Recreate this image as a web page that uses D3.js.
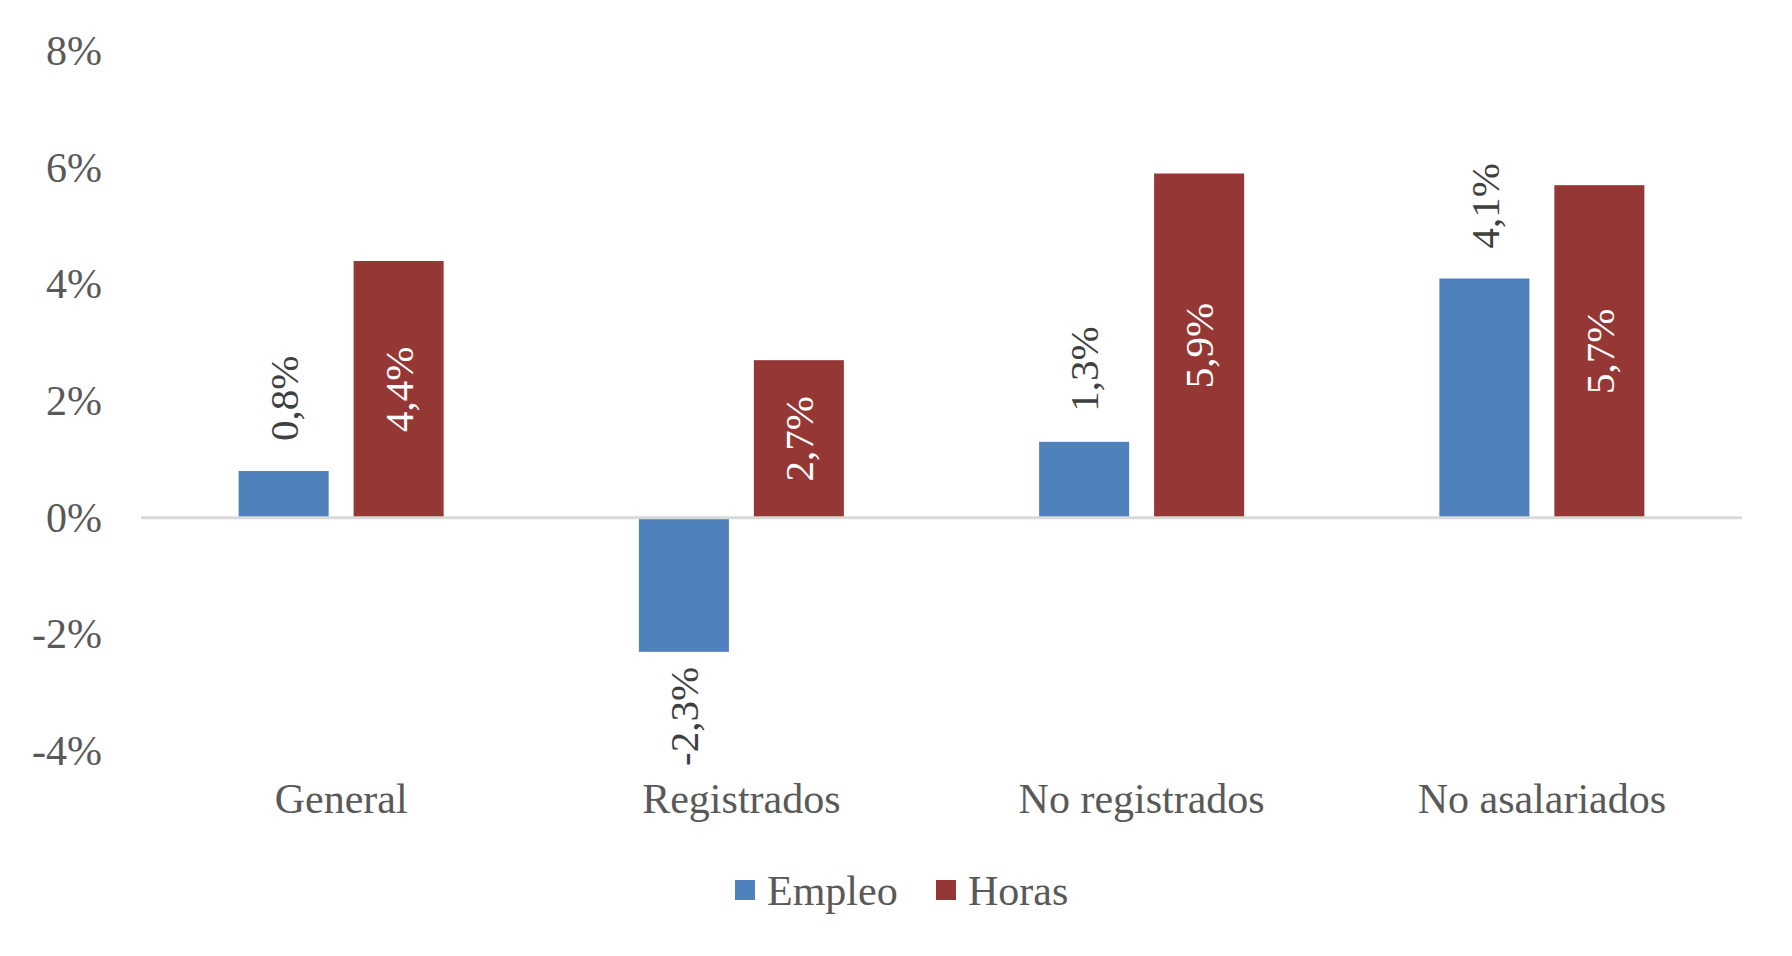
<!DOCTYPE html>
<html>
<head>
<meta charset="utf-8">
<script src="https://cdn.jsdelivr.net/npm/d3@7"></script>
<style>
  body { margin: 0; background: #fff; }
  text { font-family: "Liberation Serif", serif; }
</style>
</head>
<body>
<div id="chart-area"></div>
<script>
// data
const categories = ["General", "Registrados", "No registrados", "No asalariados"]
const series = ["Empleo", "Horas"]
const empleo = [0.8, -2.3, 1.3, 4.1]
const horas = [4.4, 2.7, 5.9, 5.7]
const yTicks = [-4, -2, 0, 2, 4, 6, 8]

const COLORS = { Empleo: "#4f81bd", Horas: "#953735" }

const WIDTH = 1792
const HEIGHT = 956

const svg = d3.select("#chart-area")
  .append("svg")
  .attr("width", WIDTH)
  .attr("height", HEIGHT)

const x0 = d3.scaleBand()
  .domain(categories)
  .range([141, 1742])

const x1 = d3.scaleBand()
  .domain(series)
  .range([0, 205])
  .paddingInner(0.217)

const y = d3.scaleLinear()
  .domain([-4, 8])
  .range([751, 51])

const rows = categories.map((c, i) => ({ cat: c, Empleo: empleo[i], Horas: horas[i] }))

// y axis labels (no line, no ticks)
const yAxis = d3.axisLeft(y)
  .tickValues(yTicks)
  .tickSize(0)
  .tickPadding(0)
  .tickFormat(d => d + "%")

svg.append("g")
  .attr("class", "y axis")
  .attr("transform", "translate(102,0)")
  .call(yAxis)
  .call(g => g.select(".domain").remove())
  .selectAll("text")
    .attr("font-family", "Liberation Serif")
    .attr("font-size", 42)
    .attr("fill", "#595959")

// bars
const offset = (x0.bandwidth() - 205) / 2
const groups = svg.append("g")
  .selectAll("g")
  .data(rows)
  .enter().append("g")
  .attr("transform", d => `translate(${x0(d.cat) + offset},0)`)

groups.selectAll("rect")
  .data(d => series.map(s => ({ key: s, value: d[s] })))
  .enter().append("rect")
  .attr("x", d => x1(d.key))
  .attr("width", x1.bandwidth())
  .attr("y", d => y(Math.max(0, d.value)))
  .attr("height", d => Math.abs(y(d.value) - y(0)))
  .attr("fill", d => COLORS[d.key])

// zero line
svg.append("line")
  .attr("x1", x0.range()[0])
  .attr("x2", x0.range()[1])
  .attr("y1", y(0))
  .attr("y2", y(0))
  .attr("stroke", "#d9d9d9")
  .attr("stroke-width", 3)

const fmt = v => d3.format(".1f")(v).replace(".", ",").replace("\u2212", "-") + "%"

// data labels, rotated
groups.selectAll("text.lbl")
  .data(d => series.map(s => ({ key: s, value: d[s] })))
  .enter().append("text")
  .attr("class", "lbl")
  .attr("font-size", 41)
  .attr("fill", d => d.key === "Horas" ? "#ffffff" : "#404040")
  .attr("dy", "0.35em")
  .attr("text-anchor", d => {
    if (d.key === "Horas") return "middle"
    return d.value >= 0 ? "start" : "end"
  })
  .attr("transform", d => {
    const cx = x1(d.key) + x1.bandwidth() / 2
    let cy
    if (d.key === "Horas") cy = (y(d.value) + y(0)) / 2
    else if (d.value >= 0) cy = y(d.value) - 30
    else cy = y(d.value) + 15
    return `translate(${cx},${cy}) rotate(-90)`
  })
  .text(d => fmt(d.value))

// category labels
svg.append("g")
  .selectAll("text")
  .data(categories)
  .enter().append("text")
  .attr("x", d => x0(d) + x0.bandwidth() / 2)
  .attr("y", 813)
  .attr("text-anchor", "middle")
  .attr("font-size", 42)
  .attr("fill", "#595959")
  .text(d => d)

// legend
const legend = svg.append("g")
const legendX = [735, 936]
series.forEach((s, i) => {
  legend.append("rect")
    .attr("x", legendX[i])
    .attr("y", 880)
    .attr("width", 20)
    .attr("height", 20)
    .attr("fill", COLORS[s])
  legend.append("text")
    .attr("x", legendX[i] + 32)
    .attr("y", 890)
    .attr("dy", "0.35em")
    .attr("font-size", 42)
    .attr("fill", "#595959")
    .text(s)
})
</script>
</body>
</html>
